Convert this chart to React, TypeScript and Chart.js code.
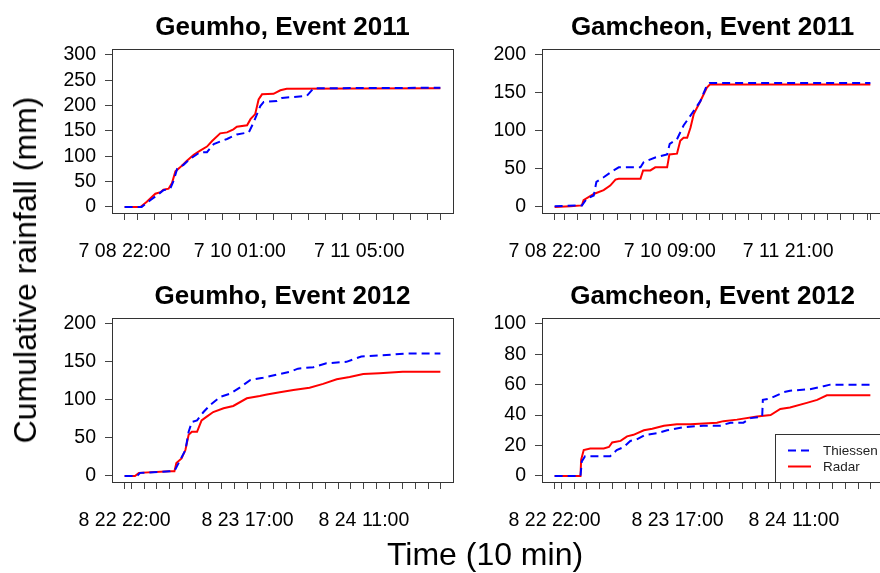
import React, { useEffect, useRef } from "react";
import { Chart, registerables } from "chart.js";
Chart.register(...registerables);

const FONT = "'Liberation Sans', Arial, Helvetica, sans-serif";

// ---------- Data (x = hours since start of event) ----------
// Geumho, Event 2011 (start 7 08 22:00)
const g11ThiessenT = [0, 4.0, 6.0, 7.6, 9.1, 10.7, 11.5, 12.3, 13.8, 15.4, 17.7, 19.3, 20.9, 24.0, 26.3, 29.1, 30.2, 31.8, 32.6, 35.7, 36.9, 42.7, 44.3, 74];
const g11ThiessenV = [0, 0, 13, 23, 33, 36, 52, 75, 83, 95, 108, 108, 124, 134, 143, 147, 166, 199, 207, 209, 215, 219, 234, 235];
const g11RadarT = [0, 3.7, 5.2, 7.2, 8.4, 9.1, 10.3, 11.1, 11.9, 13.0, 14.6, 16.2, 17.7, 19.3, 20.5, 22.4, 24.0, 25.5, 26.3, 28.7, 29.5, 30.6, 31.4, 32.2, 34.9, 36.5, 38.0, 74];
const g11RadarV = [0, 0, 10, 26, 29, 34, 36, 47, 70, 78, 91, 103, 111, 119, 130, 145, 147, 153, 158, 161, 173, 183, 212, 222, 223, 230, 233, 234];

// Gamcheon, Event 2011 (start 7 08 22:00)
const c11ThiessenT = [0, 8.3, 9.8, 11.9, 12.7, 14.9, 17.9, 19.5, 26.1, 27.1, 30.6, 34.2, 35.0, 37.2, 39.2, 41.3, 44.3, 46.3, 47.2, 96];
const c11ThiessenV = [1, 2, 11, 15, 33, 39, 48, 52, 52, 59, 65, 69, 83, 89, 107, 120, 139, 160, 163, 163];
const c11RadarT = [0, 4.8, 8.3, 8.8, 11.9, 14.9, 16.9, 18.5, 19.5, 26.1, 26.9, 29.1, 30.6, 34.2, 34.9, 37.2, 38.2, 39.2, 40.3, 41.3, 42.3, 44.3, 46.3, 47.2, 96];
const c11RadarV = [0, 1, 2, 9, 17, 22, 28, 36, 37, 37, 48, 48, 52, 52, 69, 70, 87, 91, 91, 104, 122, 139, 157, 161, 161];

// Geumho, Event 2012 (start 8 22 22:00)
const g12ThiessenT = [0, 1.9, 2.4, 7.0, 7.8, 8.6, 9.4, 9.9, 10.4, 11.2, 12.2, 13.2, 14.8, 16.3, 17.8, 19.4, 21.4, 23.5, 25.6, 26.8, 29.2, 31.2, 34.3, 36.6, 40.5, 43.5, 48.83];
const g12ThiessenV = [0, 0, 4, 6, 8, 21, 34, 58, 71, 73, 84, 93, 104, 108, 116, 126, 129, 133, 137, 141, 143, 148, 150, 157, 159, 161, 161];
const g12RadarT = [0, 1.6, 2.2, 7.0, 7.7, 8.0, 8.8, 9.4, 9.9, 10.4, 11.2, 11.9, 12.7, 13.7, 15.3, 16.8, 18.9, 20.9, 22.0, 24.0, 26.1, 28.6, 30.7, 32.8, 34.8, 36.9, 39.4, 43.0, 48.83];
const g12RadarV = [0, 0, 4, 6, 6, 17, 23, 34, 54, 58, 58, 73, 78, 84, 89, 92, 102, 105, 107, 110, 113, 116, 121, 127, 130, 134, 135, 137, 137];

// Gamcheon, Event 2012 (start 8 22 22:00)
const c12ThiessenT = [0, 4.0, 4.2, 4.7, 8.6, 9.6, 10.7, 11.7, 12.7, 14.0, 15.8, 17.4, 19.9, 23.0, 25.6, 27.2, 29.2, 30.3, 32.1, 32.2, 33.4, 35.4, 36.4, 39.5, 41.6, 42.6, 48.83];
const c12ThiessenV = [0, 0, 9.5, 13, 13, 17, 19, 23, 24, 27, 28, 30, 32, 33, 33, 35, 35, 38, 39, 50, 51, 55, 56, 57, 59, 60, 60];
const c12RadarT = [0, 4.0, 4.1, 4.5, 5.5, 7.6, 8.4, 8.9, 10.2, 11.2, 12.2, 13.8, 15.1, 16.9, 18.9, 21.0, 25.1, 26.1, 28.2, 31.3, 33.4, 34.9, 36.4, 39.0, 40.6, 42.1, 42.6, 48.83];
const c12RadarV = [0, 0, 10.6, 17, 18, 18, 19, 22, 23, 26, 27, 30, 31, 33, 34, 34, 35, 36, 37, 39, 40, 44, 45, 48, 50, 53, 53, 53];

// ---------- Ticks ----------
const xTicksG11 = [0, 3, 7, 11, 15, 19, 23, 27, 31, 35, 39, 43, 47, 51, 55, 59, 63, 67, 71, 74];
const xLabelsG11: Record<number, string> = { 0: "7 08 22:00", 27: "7 10 01:00", 55: "7 11 05:00" };
const xTicksC11 = [0, 3, 7, 11, 15, 19, 23, 27, 31, 35, 39, 43, 47, 51, 55, 59, 63, 67, 71, 75, 79, 83, 87, 91, 95, 96];
const xLabelsC11: Record<number, string> = { 0: "7 08 22:00", 35: "7 10 09:00", 71: "7 11 21:00" };
const xTicks2012 = [0, 1, 3, 5, 7, 9, 11, 13, 15, 17, 19, 21, 23, 25, 27, 29, 31, 33, 35, 37, 39, 41, 43, 45, 47, 48.83];
const xLabels2012: Record<number, string> = { 0: "8 22 22:00", 19: "8 23 17:00", 37: "8 24 11:00" };

const yTicks300 = [0, 50, 100, 150, 200, 250, 300];
const yTicks200 = [0, 50, 100, 150, 200];
const yTicks100 = [0, 20, 40, 60, 80, 100];

// ---------- Layout ----------
const PAD_L = 10;
const YW = 60;
const PAD_T = 20;
const XH = 58;
const PAD_B = 4;
const PAD_R = 10;

type Box = { l: number; r: number; t: number; b: number };
type PanelDef = {
  title: string;
  box: Box;
  end: number;
  yTicks: number[];
  xTicks: number[];
  xLabels: Record<number, string>;
  thT: number[];
  thV: number[];
  raT: number[];
  raV: number[];
  legend?: boolean;
};

const PANELS: PanelDef[] = [
  { title: "Geumho, Event 2011", box: { l: 112, r: 453, t: 48, b: 213 }, end: 74, yTicks: yTicks300, xTicks: xTicksG11, xLabels: xLabelsG11, thT: g11ThiessenT, thV: g11ThiessenV, raT: g11RadarT, raV: g11RadarV },
  { title: "Gamcheon, Event 2011", box: { l: 542, r: 883, t: 48, b: 213 }, end: 96, yTicks: yTicks200, xTicks: xTicksC11, xLabels: xLabelsC11, thT: c11ThiessenT, thV: c11ThiessenV, raT: c11RadarT, raV: c11RadarV },
  { title: "Geumho, Event 2012", box: { l: 112, r: 453, t: 317, b: 482 }, end: 48.83, yTicks: yTicks200, xTicks: xTicks2012, xLabels: xLabels2012, thT: g12ThiessenT, thV: g12ThiessenV, raT: g12RadarT, raV: g12RadarV },
  { title: "Gamcheon, Event 2012", box: { l: 542, r: 883, t: 317, b: 482 }, end: 48.83, yTicks: yTicks100, xTicks: xTicks2012, xLabels: xLabels2012, thT: c12ThiessenT, thV: c12ThiessenV, raT: c12RadarT, raV: c12RadarV, legend: true },
];

const boxPlugin = {
  id: "rbox",
  afterDatasetsDraw(chart: any) {
    const { ctx, chartArea: a } = chart;
    ctx.save();
    ctx.strokeStyle = "#333";
    ctx.lineWidth = 1;
    ctx.setLineDash([]);
    const l = Math.round(a.left) + 0.5;
    const t = Math.round(a.top) + 0.5;
    ctx.strokeRect(l, t, Math.round(a.right) - Math.round(a.left), Math.round(a.bottom) - Math.round(a.top));
    ctx.restore();
  },
};

const legendPlugin = {
  id: "rlegend",
  afterDraw(chart: any) {
    const { ctx, chartArea: a } = chart;
    const w = 108;
    const h = 48;
    const x = Math.round(a.right - w);
    const y = Math.round(a.bottom - h);
    ctx.save();
    ctx.fillStyle = "#fff";
    ctx.fillRect(x, y, w, h);
    ctx.strokeStyle = "#333";
    ctx.lineWidth = 1;
    ctx.strokeRect(x + 0.5, y + 0.5, w, h);
    chart.data.datasets.forEach((ds: any, i: number) => {
      const ly = y + 16.5 + i * 16;
      ctx.strokeStyle = ds.borderColor;
      ctx.lineWidth = 2;
      ctx.setLineDash(ds.borderDash || []);
      ctx.beginPath();
      ctx.moveTo(x + 13, ly);
      ctx.lineTo(x + 36, ly);
      ctx.stroke();
      ctx.setLineDash([]);
      ctx.fillStyle = "#222";
      ctx.font = `13.5px ${FONT}`;
      ctx.textBaseline = "middle";
      ctx.textAlign = "left";
      ctx.fillText(ds.label, x + 48, ly + 1);
    });
    ctx.restore();
  },
};

function Panel({ p }: { p: PanelDef }) {
  const ref = useRef<HTMLCanvasElement>(null);
  const { box } = p;
  const cw = PAD_L + YW + (box.r - box.l) + PAD_R;
  const ch = PAD_T + (box.b - box.t) + XH + PAD_B;
  const cx = box.l - PAD_L - YW;
  const cy = box.t - PAD_T;
  const yMax = p.yTicks[p.yTicks.length - 1];

  useEffect(() => {
    if (!ref.current) return;
    const tickFont = { family: FONT, size: 19.5 };
    const chart = new Chart(ref.current, {
      type: "line",
      data: {
        datasets: [
          {
            label: "Thiessen",
            data: p.thT.map((t, i) => ({ x: t, y: p.thV[i] })),
            borderColor: "#0000ff",
            borderWidth: 2,
            borderDash: [8, 5],
            pointRadius: 0,
            fill: false,
            tension: 0,
          },
          {
            label: "Radar",
            data: p.raT.map((t, i) => ({ x: t, y: p.raV[i] })),
            borderColor: "#ff0000",
            borderWidth: 2,
            pointRadius: 0,
            fill: false,
            tension: 0,
          },
        ],
      },
      options: {
        animation: false,
        responsive: false,
        maintainAspectRatio: false,
        events: [],
        layout: { padding: { left: PAD_L, right: PAD_R, top: PAD_T, bottom: PAD_B } },
        plugins: { legend: { display: false }, title: { display: false }, tooltip: { enabled: false } },
        scales: {
          x: {
            type: "linear",
            min: -0.04 * p.end,
            max: 1.04 * p.end,
            border: { display: false },
            grid: { drawOnChartArea: false, drawTicks: true, tickLength: 7, color: "#444", lineWidth: 1 },
            ticks: {
              autoSkip: false,
              maxRotation: 0,
              minRotation: 0,
              padding: 20,
              color: "#000",
              font: tickFont,
              callback: (v: any) => (p.xLabels[v as number] !== undefined ? p.xLabels[v as number] : ""),
            },
            afterBuildTicks: (s: any) => {
              s.ticks = p.xTicks.map((v) => ({ value: v }));
            },
            afterFit: (s: any) => {
              s.height = XH;
            },
          },
          y: {
            type: "linear",
            min: -0.04 * yMax,
            max: 1.04 * yMax,
            border: { display: false },
            grid: { drawOnChartArea: false, drawTicks: true, tickLength: 7, color: "#444", lineWidth: 1 },
            ticks: { padding: 9, color: "#000", font: tickFont },
            afterBuildTicks: (s: any) => {
              s.ticks = p.yTicks.map((v) => ({ value: v }));
            },
            afterFit: (s: any) => {
              s.width = YW;
            },
          },
        },
      },
      plugins: p.legend ? [boxPlugin, legendPlugin] : [boxPlugin],
    } as any);
    return () => chart.destroy();
  }, []);

  return (
    <>
      <canvas
        ref={ref}
        width={cw}
        height={ch}
        style={{ position: "absolute", left: cx, top: cy, width: cw, height: ch }}
      />
      <div
        style={{
          position: "absolute",
          left: (box.l + Math.min(box.r, box.r)) / 2,
          top: box.t - 35,
          transform: "translateX(-50%)",
          fontSize: 26,
          lineHeight: "26px",
          fontWeight: "bold",
          whiteSpace: "nowrap",
          color: "#000",
        }}
      >
        {p.title}
      </div>
    </>
  );
}

export default function App() {
  return (
    <div
      style={{
        position: "absolute",
        left: 0,
        top: 0,
        width: 880,
        height: 573,
        overflow: "hidden",
        background: "#fff",
        fontFamily: FONT,
      }}
    >
      {PANELS.map((p) => (
        <Panel key={p.title} p={p} />
      ))}
      <div
        style={{
          position: "absolute",
          left: 25.3,
          top: 269.5,
          transform: "translate(-50%, -50%) rotate(-90deg)",
          fontSize: 32,
          lineHeight: "32px",
          whiteSpace: "nowrap",
          color: "#000",
        }}
      >
        Cumulative rainfall (mm)
      </div>
      <div
        style={{
          position: "absolute",
          left: 485,
          top: 538,
          transform: "translateX(-50%)",
          fontSize: 32,
          lineHeight: "32px",
          whiteSpace: "nowrap",
          color: "#000",
        }}
      >
        Time (10 min)
      </div>
    </div>
  );
}
